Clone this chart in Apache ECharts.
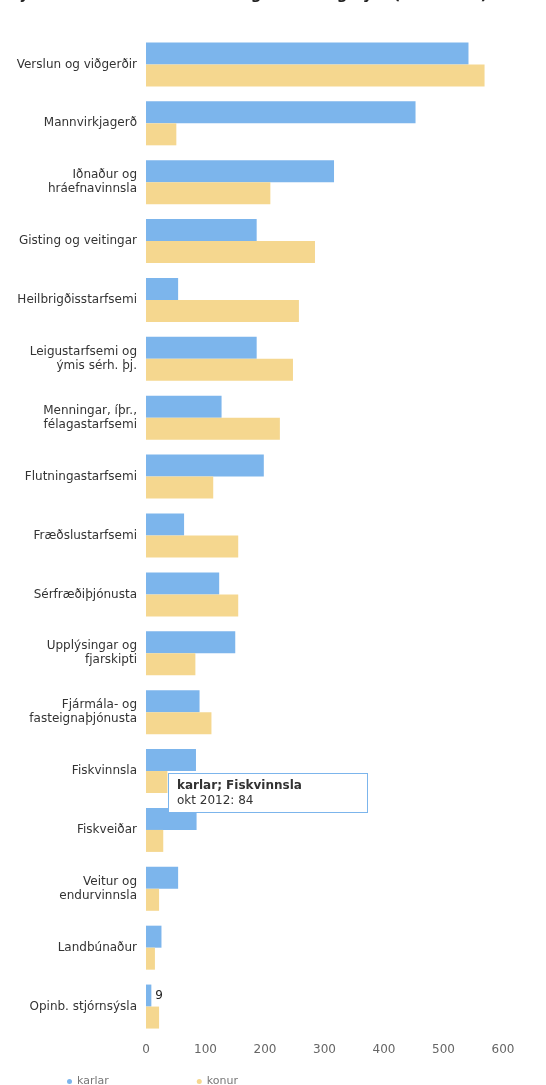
<!DOCTYPE html>
<html>
<head>
<meta charset="utf-8">
<script src="https://cdn.jsdelivr.net/npm/echarts@6/dist/echarts.min.js"></script>
<style>
html,body{margin:0;padding:0;background:#fff;}
#chart{width:546px;height:1085px;}
</style>
</head>
<body>
<div id="chart"></div>
<script>
const titleText = 'Fjöldi starfandi eftir atvinnugreinum og kyni (okt. 2012)';
const categories = [
  'Verslun og viðgerðir',
  'Mannvirkjagerð',
  'Iðnaður og\nhráefnavinnsla',
  'Gisting og veitingar',
  'Heilbrigðisstarfsemi',
  'Leigustarfsemi og\nýmis sérh. þj.',
  'Menningar, íþr.,\nfélagastarfsemi',
  'Flutningastarfsemi',
  'Fræðslustarfsemi',
  'Sérfræðiþjónusta',
  'Upplýsingar og\nfjarskipti',
  'Fjármála- og\nfasteignaþjónusta',
  'Fiskvinnsla',
  'Fiskveiðar',
  'Veitur og\nendurvinnsla',
  'Landbúnaður',
  'Opinb. stjórnsýsla'
];
const karlar = [542, 453, 316, 186, 54, 186, 127, 198, 64, 123, 150, 90, 84, 85, 54, 26, 9];
const konur  = [569, 51, 209, 284, 257, 247, 225, 113, 155, 155, 83, 110, 36, 29, 22, 15, 22];
const xTicks = [0, 100, 200, 300, 400, 500, 600];
const period = 'okt 2012';
const labelledKarlIndex = 16;
const tooltipIndex = 12;

const FONT = 'DejaVu Sans';
const chart = echarts.init(document.getElementById('chart'), null, {renderer: 'canvas'});
chart.setOption({
  animation: false,
  title: {
    text: titleText,
    left: 6,
    top: -17,
    textStyle: {fontFamily: FONT, fontSize: 15, fontWeight: 'bold', color: '#222'}
  },
  grid: {left: 146, right: 43, top: 35, bottom: 49},
  legend: {
    data: ['karlar', 'konur'],
    left: 62,
    top: 1071,
    icon: 'circle',
    itemWidth: 5,
    itemHeight: 5,
    itemGap: 88,
    textStyle: {fontFamily: FONT, fontSize: 11, color: '#777'}
  },
  tooltip: {
    trigger: 'item',
    alwaysShowContent: true,
    transitionDuration: 0,
    position: [168, 773],
    backgroundColor: '#ffffff',
    borderColor: '#7cb5ec',
    borderWidth: 1,
    borderRadius: 0,
    padding: [4, 8],
    extraCssText: 'box-shadow:none;width:182px;line-height:15px;',
    textStyle: {fontFamily: FONT, fontSize: 12, color: '#333', lineHeight: 15},
    formatter: p => '<span style="font-weight:600;line-height:15px">' + p.seriesName + '; ' + p.name.replace('\n', ' ') + '</span><br/><span style="line-height:15px">' + period + ': ' + p.value + '</span>'
  },
  xAxis: {
    type: 'value',
    min: 0,
    max: 600,
    interval: 100,
    axisLine: {show: false},
    axisTick: {show: false},
    splitLine: {show: false},
    axisLabel: {
      fontFamily: FONT, fontSize: 12, color: '#666', margin: 8,
      formatter: v => xTicks.includes(v) ? String(v) : ''
    }
  },
  yAxis: {
    type: 'category',
    data: categories,
    inverse: true,
    axisLine: {show: false},
    axisTick: {show: false},
    axisLabel: {fontFamily: FONT, fontSize: 12, color: '#333', margin: 9, lineHeight: 14}
  },
  series: [
    {
      name: 'karlar',
      type: 'bar',
      data: karlar.map((v, i) => i === labelledKarlIndex ? {value: v, label: {show: true}} : v),
      barWidth: 22,
      barGap: '0%',
      itemStyle: {color: '#7cb5ec'},
      label: {show: false, position: 'right', distance: 4, fontFamily: FONT, fontSize: 12, color: '#222'}
    },
    {
      name: 'konur',
      type: 'bar',
      data: konur,
      barWidth: 22,
      barGap: '0%',
      itemStyle: {color: '#f5d78f'}
    }
  ]
});
chart.dispatchAction({type: 'showTip', seriesIndex: 0, dataIndex: tooltipIndex});
</script>
</body>
</html>
